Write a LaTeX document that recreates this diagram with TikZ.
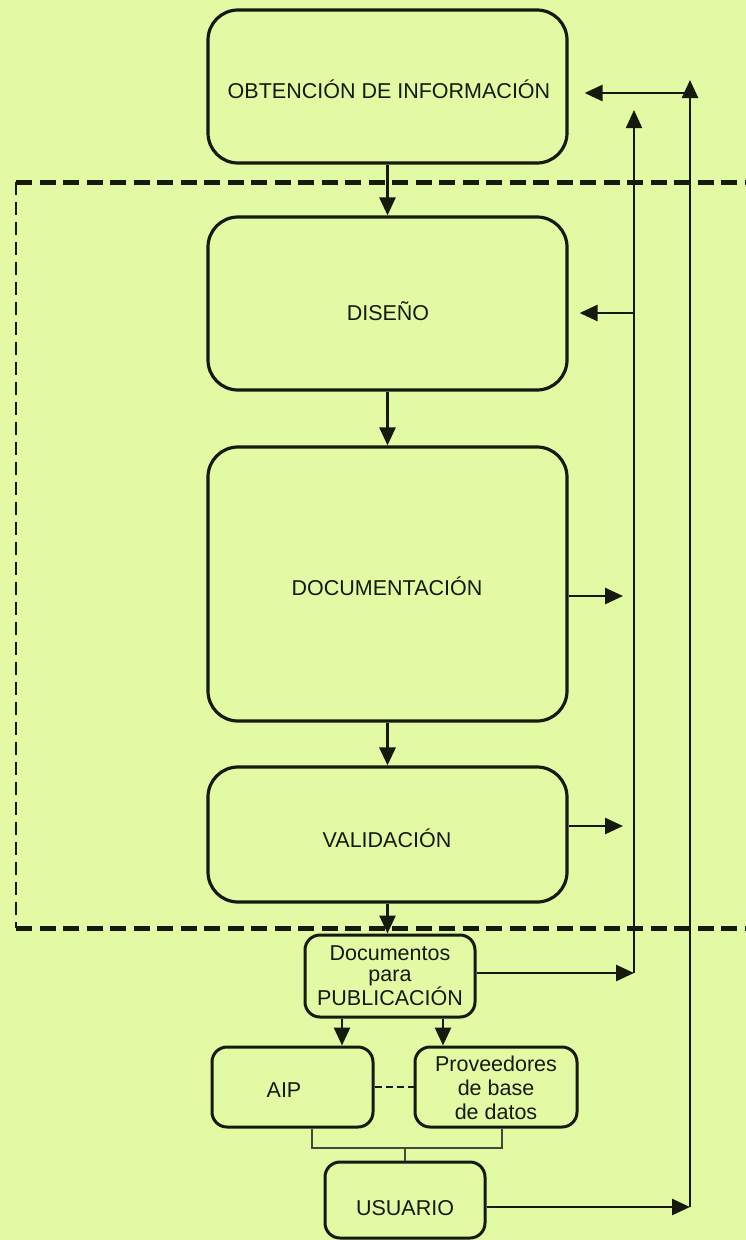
\documentclass[tikz,border=0pt]{standalone}
\usepackage{fontspec}
\setmainfont{Liberation Sans}
\usetikzlibrary{arrows.meta,calc}
\definecolor{bg}{RGB}{226,250,164}
\definecolor{ink}{RGB}{22,26,12}
\begin{document}
\begin{tikzpicture}[x=1pt,y=-1pt,
  box/.style={draw=ink, line width=3.2pt, rounded corners=30pt, inner sep=0pt},
  sbox/.style={draw=ink, line width=3pt, rounded corners=15pt, inner sep=0pt},
  txt/.style={font=\fontsize{21.5}{22}\selectfont, text=ink, inner sep=0pt, anchor=base},
  mtxt/.style={font=\fontsize{21.5}{21}\selectfont, text=ink, inner sep=0pt, align=center},
  arr/.style={draw=ink, line width=2.7pt, -{Triangle[length=18pt,width=16pt]}},
  arrthin/.style={draw=ink, line width=1.9pt, -{Triangle[length=18pt,width=16pt]}},
  conn/.style={draw=ink!80, line width=1.3pt},
  dashH/.style={draw=ink, line width=5pt, dash pattern=on 16pt off 7.5pt},
  dashV/.style={draw=ink, line width=2.4pt, dash pattern=on 13pt off 7pt},
  dashS/.style={draw=ink, line width=2.7pt, dash pattern=on 7pt off 4pt}]
\fill[bg] (0,0) rectangle (746,1240);
\useasboundingbox (0,0) rectangle (746,1240);

% boxes
\node[box, minimum width=359pt, minimum height=153pt] (obt) at (387.5,86.5) {};
\node[box, minimum width=359pt, minimum height=173pt] (dis) at (387.5,303.5) {};
\node[box, minimum width=359pt, minimum height=274pt] (doc) at (387.5,584) {};
\node[box, minimum width=359pt, minimum height=135pt] (val) at (387.5,834.5) {};
\node[sbox, minimum width=170pt, minimum height=82pt] (pub) at (390,976) {};
\node[sbox, minimum width=161pt, minimum height=80pt] (aip) at (292.5,1087) {};
\node[sbox, minimum width=162pt, minimum height=80pt] (prov) at (496,1087) {};
\node[sbox, minimum width=160pt, minimum height=76pt] (usu) at (405,1200) {};

% texts
\node[txt] (obtT) at (389,98.5) {OBTENCIÓN DE INFORMACIÓN};
\node[txt] (disT) at (388,320.5) {DISEÑO};
\node[txt] (docT) at (387,595.5) {DOCUMENTACIÓN};
\node[txt] (valT) at (387,847.5) {VALIDACIÓN};
\node[mtxt] (pubT) at (390,976) {Documentos\\para\\PUBLICACIÓN};
\node[txt] (aipT) at (284,1097) {AIP};
\node[mtxt, font=\fontsize{21.5}{23.7}\selectfont] (provT) at (496,1088) {Proveedores\\de base\\de datos};
\node[txt] (usuT) at (405,1215) {USUARIO};

% main flow
\draw[arr] (obt.south) -- (dis.north);
\draw[arr] (dis.south) -- (doc.north);
\draw[arr, line width=3.2pt] (doc.south) -- (val.north);
\draw[arr] (val.south) -- (val.south |- pub.north);
\draw[arr] ([xshift=-48pt]pub.south) -- ([xshift=-48pt]pub.south |- aip.north);
\draw[arr] ([xshift=53pt]pub.south) -- ([xshift=53pt]pub.south |- prov.north);
\draw[dashS] (aip.east) -- (prov.west);

% connectors to user
\coordinate (cJ) at (405,1148);
\draw[conn] ([xshift=19.5pt]aip.south) |- (cJ);
\draw[conn] ([xshift=6pt]prov.south) |- (cJ);
\draw[conn] (cJ) -- (usu.north);

% feedback loops
\coordinate (cUR) at (690,1207);
\coordinate (cTop) at (690,80);
\coordinate (cH) at (690,93);
\draw[arr] (usu.east |- cUR) -- (cUR);
\draw[arr] (cUR) -- (cTop);
\draw[arr] (cH) -- ([xshift=16pt]obt.east |- cH);

\coordinate (cV2b) at (634,973);
\coordinate (cV2t) at (634,110);
\coordinate (cD) at (634,313);
\coordinate (cDoc) at (623,596);
\coordinate (cVal) at (623,826);
\draw[arrthin] (cV2b) -- (cV2t);
\draw[arr] (pub.east |- cV2b) -- (cV2b);
\draw[arr] (cD) -- ([xshift=11pt]dis.east |- cD);
\draw[arr] (doc.east |- cDoc) -- (cDoc);
\draw[arr] (val.east |- cVal) -- (cVal);

% dashed frame
\coordinate (fTR) at (746,182);
\coordinate (fTL) at (16,182);
\coordinate (fBL) at (16,928);
\coordinate (fBR) at (746,928);
\draw[dashH] (fTL) -- (fTR);
\draw[dashV] (fTL) -- (fBL);
\draw[dashH] (fBL) -- (fBR);
\end{tikzpicture}
\end{document}
